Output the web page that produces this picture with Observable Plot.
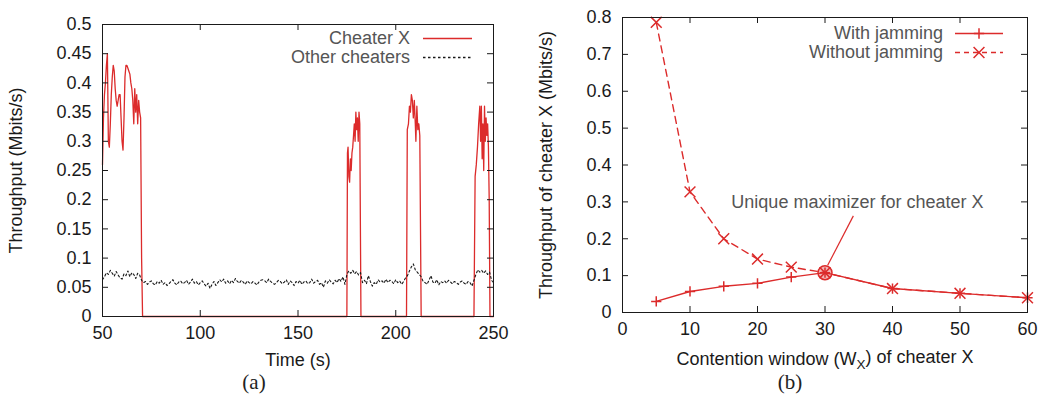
<!DOCTYPE html>
<html><head><meta charset="utf-8">
<script src="https://cdn.jsdelivr.net/npm/d3@7"></script>
<script src="https://cdn.jsdelivr.net/npm/@observablehq/plot@0.6"></script>
<style>
body{margin:0;background:#fff;}
#wrap{position:relative;width:1039px;height:410px;overflow:hidden;font-family:"Liberation Sans",Arial,sans-serif;background:#fff;}
.panel{position:absolute;top:0;}
.cap{position:absolute;top:370px;font-family:"Liberation Serif","DejaVu Serif",serif;font-size:21px;line-height:24px;color:#222;transform:translateX(-50%);}
</style></head><body>
<div id="wrap">
  <div id="pa" class="panel" style="left:0px"></div>
  <div id="pb" class="panel" style="left:520px"></div>
  <div class="cap" style="left:254px">(a)</div>
  <div class="cap" style="left:790px">(b)</div>
</div>
<script>
// ---------- Panel (a) data ----------
const cheaterTime = [
  50,50.5,51,51.5,52,52.5,53,53.5,54,54.5,55,55.5,56,56.5,57,57.5,58,58.5,59,59.5,
  60,60.5,61,61.5,62,62.5,63,63.5,64,64.5,65,65.5,66,66.5,67,67.5,68,68.5,69,69.5,70,70.5,
  175,175.3,175.6,176,176.4,176.8,177.2,177.6,178,178.4,178.8,179.2,179.6,180,180.4,180.8,181.2,181.6,182.2,
  205.5,205.9,206.5,207,207.5,208,208.5,209,209.5,210,210.3,210.8,211.3,211.8,212.3,213,
  240,240.6,241.2,241.8,242.4,243,243.4,243.8,244.2,244.6,245,245.4,245.8,246.2,246.6,247,247.4,247.8,248.2,250
];
const cheaterValue = [
  0.26,0.34,0.38,0.40,0.43,0.45,0.30,0.29,0.33,0.38,0.41,0.43,0.42,0.39,0.37,0.36,0.37,0.38,0.38,0.34,
  0.30,0.285,0.34,0.41,0.43,0.43,0.425,0.42,0.415,0.40,0.39,0.37,0.33,0.39,0.35,0.38,0.33,0.37,0.35,0.34,0.10,0,
  0,0.28,0.29,0.24,0.23,0.27,0.25,0.28,0.29,0.31,0.33,0.30,0.35,0.32,0.34,0.30,0.35,0.33,0,
  0,0.32,0.33,0.36,0.35,0.38,0.37,0.34,0.37,0.33,0.30,0.36,0.32,0.33,0.31,0,
  0,0.24,0.26,0.29,0.33,0.36,0.30,0.36,0.27,0.33,0.25,0.36,0.30,0.34,0.31,0.33,0.29,0.20,0,0
];
const otherTime = d3.range(50, 251);
const otherValue = [
  0.063,0.068,0.075,0.072,0.079,0.074,0.069,0.077,0.071,0.066,0.064,0.073,0.070,0.078,0.068,0.075,0.072,0.065,0.074,0.071,
  0.062,0.058,0.060,0.055,0.059,0.061,0.056,0.054,0.060,0.057,
  0.062,0.055,0.058,0.053,0.056,0.060,0.063,0.057,0.054,0.059,
  0.061,0.056,0.058,0.062,0.055,0.059,0.064,0.057,0.060,0.054,
  0.058,0.061,0.056,0.052,0.057,0.048,0.055,0.060,0.053,0.058,
  0.063,0.059,0.064,0.057,0.061,0.056,0.062,0.058,0.065,0.060,
  0.057,0.062,0.059,0.055,0.061,0.058,0.056,0.060,0.057,0.054,
  0.059,0.062,0.063,0.061,0.058,0.064,0.060,0.057,0.055,0.058,
  0.062,0.060,0.056,0.059,0.063,0.055,0.061,0.058,0.053,0.060,
  0.057,0.062,0.055,0.059,0.061,0.056,0.058,0.064,0.057,0.060,
  0.062,0.055,0.058,0.050,0.061,0.057,0.063,0.059,0.056,0.062,
  0.058,0.065,0.060,0.068,0.055,
  0.072,0.078,0.074,0.079,0.073,0.077,0.071,0.075,
  0.058,0.062,0.056,0.070,0.060,0.052,0.058,0.055,0.063,0.059,0.061,0.057,0.064,0.058,0.062,0.060,0.056,0.063,0.058,0.061,0.055,0.060,0.066,
  0.070,0.078,0.085,0.090,0.080,0.076,0.072,0.068,
  0.060,0.058,0.055,0.062,0.070,0.059,0.057,0.063,0.054,0.060,0.058,0.061,0.057,0.062,0.059,0.056,0.060,0.058,0.055,0.059,0.061,0.057,0.055,0.060,0.058,0.052,0.062,
  0.072,0.080,0.076,0.079,0.074,0.078,0.072,0.076,0.062,0.058
];
const xTicksA = [50, 100, 150, 200, 250];
const yTicksA = [0, 0.05, 0.1, 0.15, 0.2, 0.25, 0.3, 0.35, 0.4, 0.45, 0.5];
const yTickLabelsA = ["0","0.05","0.1","0.15","0.2","0.25","0.3","0.35","0.4","0.45","0.5"];
const seriesA = ["Cheater X", "Other cheaters"];

// ---------- Panel (b) data ----------
const windowX = [5, 10, 15, 20, 25, 30, 40, 50, 60];
const withJamming = [0.030, 0.057, 0.071, 0.079, 0.096, 0.108, 0.065, 0.052, 0.040];
const withoutJamming = [0.787, 0.327, 0.200, 0.145, 0.123, 0.108, 0.065, 0.052, 0.040];
const xTicksB = [0, 10, 20, 30, 40, 50, 60];
const yTicksB = [0, 0.1, 0.2, 0.3, 0.4, 0.5, 0.6, 0.7, 0.8];
const yTickLabelsB = ["0","0.1","0.2","0.3","0.4","0.5","0.6","0.7","0.8"];
const seriesB = ["With jamming", "Without jamming"];
const maximizer = [{x: 30, y: 0.108}];
const annotation = [{x: 34.8, y: 0.298, text: "Unique maximizer for cheater X"}];
const pointer = [{x1: 34.2, y1: 0.262, x2: 30.4, y2: 0.128}];

// ---------- shared ----------
const RED = "#dc2b2b";
const INK = "#1a1a1a";
const FONT = "'Liberation Sans', Arial, Helvetica, sans-serif";
const H = 370;

function legendMark(items, opt) {
  return (index, scales, values, dims) => {
    const g = d3.create("svg:g").attr("font-size", 18).attr("font-family", FONT);
    const xr = dims.width - dims.marginRight;
    items.forEach((it, i) => {
      const y = dims.marginTop + opt.top + i * opt.gap;
      const tx = xr - opt.right;
      g.append("text").attr("x", tx).attr("y", y).attr("dy", "0.35em")
        .attr("text-anchor", "end").attr("fill", "#555").text(it.label);
      g.append("line").attr("x1", tx + opt.s0).attr("x2", tx + opt.s1)
        .attr("y1", y + 0.5).attr("y2", y + 0.5)
        .attr("stroke", it.stroke).attr("stroke-width", it.width)
        .attr("stroke-dasharray", it.dash || null);
      if (it.symbol) {
        g.append("path").attr("transform", `translate(${tx + (opt.s0 + opt.s1) / 2},${y + 0.5})`)
          .attr("d", d3.symbol(it.symbol, Math.PI * it.r * it.r)())
          .attr("fill", "none").attr("stroke", it.stroke).attr("stroke-width", 1.5);
      }
    });
    return g.node();
  };
}

// ---------- Panel (a) ----------
const mA = {top: 24, right: 27, bottom: 54, left: 102};
const WA = 520;
const innerWA = WA - mA.left - mA.right;
const innerHA = H - mA.top - mA.bottom;
const cheaterRows = cheaterTime.map((t, i) => ({t, v: cheaterValue[i]}));
const otherRows = otherTime.map((t, i) => ({t, v: otherValue[i]}));

const plotA = Plot.plot({
  width: WA, height: H,
  marginTop: mA.top, marginRight: mA.right, marginBottom: mA.bottom, marginLeft: mA.left,
  style: {fontSize: "18px", fontFamily: FONT, color: INK, background: "transparent"},
  x: {domain: [50, 250]},
  y: {domain: [0, 0.5]},
  marks: [
    Plot.line(cheaterRows, {x: "t", y: "v", stroke: RED, strokeWidth: 1.3}),
    Plot.line(otherRows, {x: "t", y: "v", stroke: INK, strokeWidth: 1.1, strokeDasharray: "2,2.5"}),
    Plot.frame({stroke: INK}),
    Plot.tickX(xTicksA, {insetTop: innerHA - 6, stroke: INK}),
    Plot.tickX(xTicksA, {insetBottom: innerHA - 6, stroke: INK}),
    Plot.tickY(yTicksA, {insetRight: innerWA - 6, stroke: INK}),
    Plot.tickY(yTicksA, {insetLeft: innerWA - 6, stroke: INK}),
    Plot.axisX({ticks: xTicksA, tickSize: 0, tickPadding: 10, label: "Time (s)",
      labelAnchor: "center", labelOffset: 49, labelArrow: "none"}),
    Plot.axisY({ticks: yTicksA, tickSize: 0, tickPadding: 11,
      tickFormat: d => yTickLabelsA[yTicksA.indexOf(d)] ?? String(d),
      label: "Throughput (Mbits/s)", labelAnchor: "center", labelOffset: 93, labelArrow: "none"}),
    legendMark([
      {label: seriesA[0], stroke: RED, width: 1.3},
      {label: seriesA[1], stroke: INK, width: 1.3, dash: "2.5,2.5"}
    ], {right: 83, top: 14, gap: 19, s0: 13, s1: 62})
  ]
});
document.getElementById("pa").append(plotA);

// ---------- Panel (b) ----------
const mB = {top: 17, right: 12, bottom: 58, left: 102};
const WB = 519;
const innerWB = WB - mB.left - mB.right;
const innerHB = H - mB.top - mB.bottom;
const withRows = windowX.map((x, i) => ({x, y: withJamming[i]}));
const withoutRows = windowX.map((x, i) => ({x, y: withoutJamming[i]}));

const plotB = Plot.plot({
  width: WB, height: H,
  marginTop: mB.top, marginRight: mB.right, marginBottom: mB.bottom, marginLeft: mB.left,
  style: {fontSize: "18px", fontFamily: FONT, color: INK, background: "transparent", overflow: "visible"},
  x: {domain: [0, 60]},
  y: {domain: [0, 0.8]},
  marks: [
    Plot.line(withoutRows, {x: "x", y: "y", stroke: RED, strokeWidth: 1.4, strokeDasharray: "7,5"}),
    Plot.line(withRows, {x: "x", y: "y", stroke: RED, strokeWidth: 1.4}),
    Plot.dot(maximizer, {x: "x", y: "y", r: 7, stroke: RED, strokeWidth: 1.5, fill: RED, fillOpacity: 0.35}),
    Plot.dot(withoutRows, {x: "x", y: "y", symbol: "times", r: 5, stroke: RED, strokeWidth: 1.5}),
    Plot.dot(withRows, {x: "x", y: "y", symbol: "plus", r: 3.4, stroke: RED, strokeWidth: 1.5}),
    Plot.link(pointer, {x1: "x1", y1: "y1", x2: "x2", y2: "y2", stroke: RED, strokeWidth: 1.2}),
    Plot.text(annotation, {x: "x", y: "y", text: "text", fill: "#555", fontSize: 18}),
    Plot.frame({stroke: INK}),
    Plot.tickX(xTicksB, {insetTop: innerHB - 6, stroke: INK}),
    Plot.tickX(xTicksB, {insetBottom: innerHB - 6, stroke: INK}),
    Plot.tickY(yTicksB, {insetRight: innerWB - 6, stroke: INK}),
    Plot.tickY(yTicksB, {insetLeft: innerWB - 6, stroke: INK}),
    Plot.axisX({ticks: xTicksB, tickSize: 0, tickPadding: 10,
      label: "Contention window (WX) of cheater X",
      labelAnchor: "center", labelOffset: 52, labelArrow: "none"}),
    Plot.axisY({ticks: yTicksB, tickSize: 0, tickPadding: 11,
      tickFormat: d => yTickLabelsB[yTicksB.indexOf(d)] ?? String(d),
      label: "Throughput of cheater X (Mbits/s)", labelAnchor: "center", labelOffset: 83, labelArrow: "none"}),
    legendMark([
      {label: seriesB[0], stroke: RED, width: 1.4, symbol: d3.symbolPlus, r: 3.4},
      {label: seriesB[1], stroke: RED, width: 1.4, dash: "5,4", symbol: d3.symbolTimes, r: 5}
    ], {right: 84, top: 16, gap: 19, s0: 12, s1: 60})
  ]
});
document.getElementById("pb").append(plotB);

// subscript X in W_X
d3.select(plotB).selectAll("text").each(function () {
  const el = d3.select(this);
  const t = this.textContent;
  if (t === "Contention window (WX) of cheater X") {
    el.text(null);
    el.append("tspan").text("Contention window (W");
    el.append("tspan").attr("dy", "0.3em").attr("font-size", "0.75em").text("X");
    el.append("tspan").attr("dy", "-0.3em").text(") of cheater X");
  }
});
</script>
</body></html>
